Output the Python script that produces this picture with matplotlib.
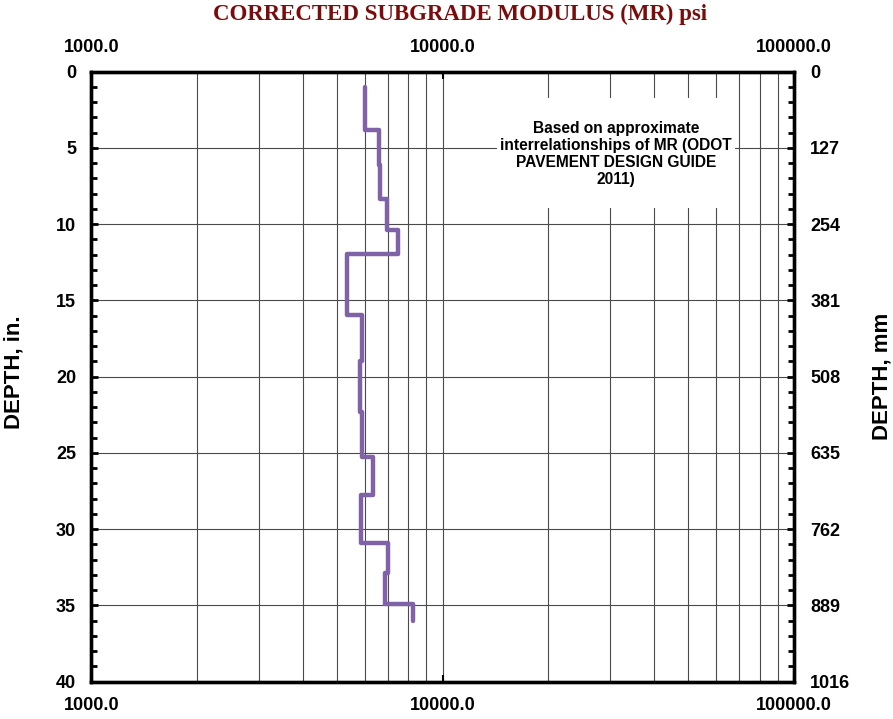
import matplotlib
matplotlib.use("Agg")
import matplotlib.pyplot as plt
from matplotlib.patches import Rectangle
from matplotlib.ticker import FixedLocator, NullFormatter, LogLocator
import numpy as np

# Layer boundaries (depth, in.) and corrected subgrade modulus per layer (psi)
layer_top = [1.0, 3.84, 6.12, 8.35, 10.38, 11.97, 15.95, 19.0, 22.3, 25.25, 27.76, 30.92, 32.85, 34.9]
layer_bottom = [3.84, 6.12, 8.35, 10.38, 11.97, 15.95, 19.0, 22.3, 25.25, 27.76, 30.92, 32.85, 34.9, 36.05]
mr_psi = [6018, 6607, 6651, 6963, 7483, 5357, 5889, 5824, 5889, 6353, 5862, 6996, 6873, 8227]

depth_major = [0, 5, 10, 15, 20, 25, 30, 35, 40]
mr_ticks = [1000.0, 10000.0, 100000.0]
note = "Based on approximate\ninterrelationships of MR (ODOT\nPAVEMENT DESIGN GUIDE\n2011)"

W, H = 893, 719
fig = plt.figure(figsize=(W / 100, H / 100), dpi=100)
L, R, T, B = 91.3, 793.7, 71.7, 681.7
ax = fig.add_axes([L / W, 1 - B / H, (R - L) / W, (B - T) / H])

ax.set_xscale("log")
ax.set_xlim(1000, 100000)
ax.set_ylim(40, 0)

# step profile built from layer data
xs, ys = [], []
for top, bot, v in zip(layer_top, layer_bottom, mr_psi):
    xs += [v, v]
    ys += [top, bot]
ax.plot(xs, ys, color="#7f63a6", lw=3.2, solid_joinstyle="round",
        solid_capstyle="round", zorder=3)

# grid
ax.set_axisbelow(True)
ax.xaxis.set_major_locator(FixedLocator(mr_ticks))
ax.xaxis.set_minor_locator(LogLocator(base=10, subs=np.arange(2, 10)))
ax.xaxis.set_minor_formatter(NullFormatter())
ax.grid(True, which="both", axis="x", color="#4a4a4a", lw=0.8)
ax.yaxis.set_major_locator(FixedLocator(depth_major))
ax.yaxis.set_minor_locator(FixedLocator(np.arange(0, 41, 1)))
ax.grid(True, which="major", axis="y", color="#4a4a4a", lw=0.8)

tick_font = dict(fontfamily="Liberation Sans", fontweight="bold", fontsize=13)
ax.set_xticklabels([f"{v:.1f}" for v in mr_ticks], **tick_font)
ax.set_yticklabels([str(d) for d in depth_major], **tick_font)
ax.tick_params(axis="x", which="major", direction="in", length=5, width=1.5,
               top=True, bottom=True, labeltop=True, labelbottom=True, pad=11)
ax.tick_params(axis="x", which="minor", length=0)
ax.tick_params(axis="y", which="major", direction="in", length=5, width=2, pad=11)
ax.tick_params(axis="y", which="minor", direction="in", length=4, width=2)

for s in ax.spines.values():
    s.set_linewidth(2.4)
    s.set_color("black")

# secondary depth axis in millimetres
ax2 = ax.twinx()
ax2.set_ylim(40, 0)
ax2.yaxis.set_major_locator(FixedLocator(depth_major))
ax2.yaxis.set_minor_locator(FixedLocator(np.arange(0, 41, 1)))
ax2.set_yticklabels([f"{d * 25.4:.0f}" for d in depth_major], **tick_font)
ax2.tick_params(axis="y", which="major", direction="in", length=5, width=2, pad=12)
ax2.tick_params(axis="y", which="minor", direction="in", length=4, width=2)
for s in ax2.spines.values():
    s.set_linewidth(2.4)

# note box
ax.add_patch(Rectangle((0.578, 0.777), 0.338, 0.18, transform=ax.transAxes,
                       facecolor="white", edgecolor="none", zorder=1.5))
ax.text(0.747, 0.8645, note, transform=ax.transAxes, ha="center", va="center",
        fontfamily="Liberation Sans", fontweight="bold", fontsize=11.2,
        linespacing=1.16, zorder=4)

fig.text(460 / W, 1 - 14 / H, "CORRECTED SUBGRADE MODULUS (MR) psi",
         ha="center", va="center", fontfamily="Liberation Serif",
         fontweight="bold", fontsize=16.5, color="#7a0c0c")
fig.text(14 / W, 1 - 372.5 / H, "DEPTH, in.", rotation=90, ha="center",
         va="center", fontfamily="Liberation Sans", fontweight="bold", fontsize=16)
fig.text(882 / W, 1 - 376 / H, "DEPTH, mm", rotation=90, ha="center",
         va="center", fontfamily="Liberation Sans", fontweight="bold", fontsize=16)

fig.savefig("out.png", dpi=100)
